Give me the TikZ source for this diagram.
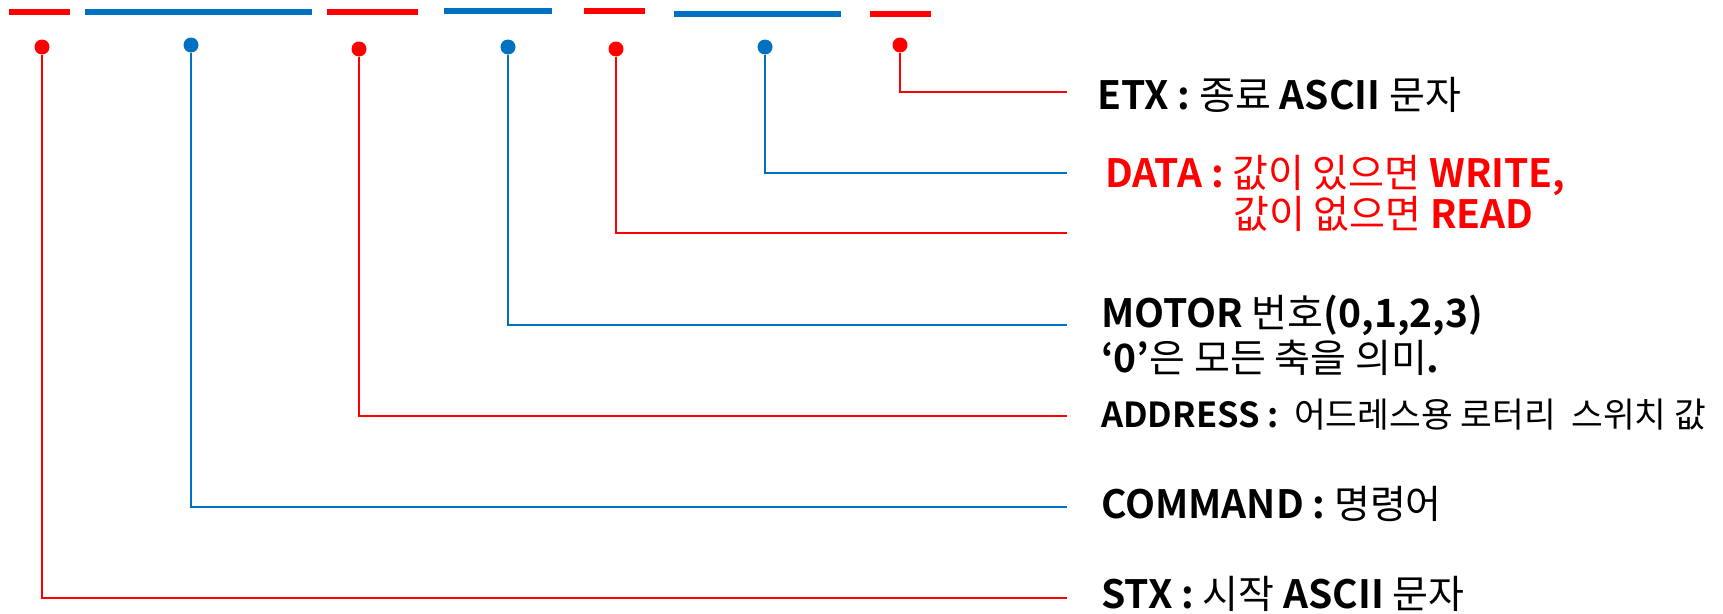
\documentclass[tikz,border=0pt]{standalone}
\usepackage{fontspec}
\setmainfont{Noto Sans CJK KR}[BoldFont={Noto Sans CJK KR Bold}]
\definecolor{fred}{HTML}{FF0000}
\definecolor{fblue}{HTML}{0070C0}
\newcommand\B[1]{\textbf{#1}}
\tikzset{
  bar/.style={line width=6pt},
  pin/.style={circle, fill=#1, draw=none, inner sep=0pt, minimum size=15pt},
  lead/.style={draw=#1, line width=2pt},
  lbl/.style={anchor=base west, inner sep=0pt, font=\fontsize{39}{45}\selectfont},
  lblsmall/.style={anchor=base west, inner sep=0pt, font=\fontsize{34.5}{40}\selectfont}
}
\begin{document}
\begin{tikzpicture}[x=1pt, y=-1pt]
\useasboundingbox (0,0) rectangle (1723,613);

% frame field bars
\draw[bar, fred]  (9,12)   -- (70,12);
\draw[bar, fblue] (85,12)  -- (312,12);
\draw[bar, fred]  (327,12) -- (418,12);
\draw[bar, fblue] (444,11) -- (552,11);
\draw[bar, fred]  (584,11) -- (645,11);
\draw[bar, fblue] (674,14) -- (841,14);
\draw[bar, fred]  (870,14) -- (931,14);

% field pins
\node[pin=fred]  (stxp) at (42,47)  {};
\node[pin=fblue] (cmdp) at (191,45) {};
\node[pin=fred]  (adrp) at (359,49) {};
\node[pin=fblue] (motp) at (508,47) {};
\node[pin=fred]  (rdp)  at (616,49) {};
\node[pin=fblue] (wrp)  at (765,47) {};
\node[pin=fred]  (etxp) at (900,45) {};

% lead ends
\coordinate (etxe) at (1067,92);
\coordinate (wre)  at (1067,173);
\coordinate (rde)  at (1067,233);
\coordinate (mote) at (1067,325);
\coordinate (adre) at (1067,416);
\coordinate (cmde) at (1067,507);
\coordinate (stxe) at (1067,598);

\draw[lead=fred]  (etxp) |- (etxe);
\draw[lead=fblue] (wrp)  |- (wre);
\draw[lead=fred]  (rdp)  |- (rde);
\draw[lead=fblue] (motp) |- (mote);
\draw[lead=fred]  (adrp) |- (adre);
\draw[lead=fblue] (cmdp) |- (cmde);
\draw[lead=fred]  (stxp) |- (stxe);

% descriptions
\node[lbl] (etx) at (1097,109) {\B{ETX :} 종료 \B{ASCII} 문자};
\node[lbl, text=fred] (data) at (1105,187) {\B{DATA :} 값이 있으면 \B{WRITE,}};
\node[lbl, text=fred] (data2) at (1233,228) {값이 없으면 \B{READ}};
\node[lbl] (motor) at (1101,327) {\B{MOTOR} 번호\B{(0,1,2,3)}};
\node[lbl] (motor2) at (1101,372) {\B{‘0’}은 모든 축을 의미\B{.}};
\node[lblsmall] (addr) at (1101,427) {\B{ADDRESS :}\ \ 어드레스용 로터리\ \ 스위치 값};
\node[lbl] (cmd) at (1101,518) {\B{COMMAND :} 명령어};
\node[lbl] (stx) at (1101,608) {\B{STX :} 시작 \B{ASCII} 문자};
\end{tikzpicture}
\end{document}
